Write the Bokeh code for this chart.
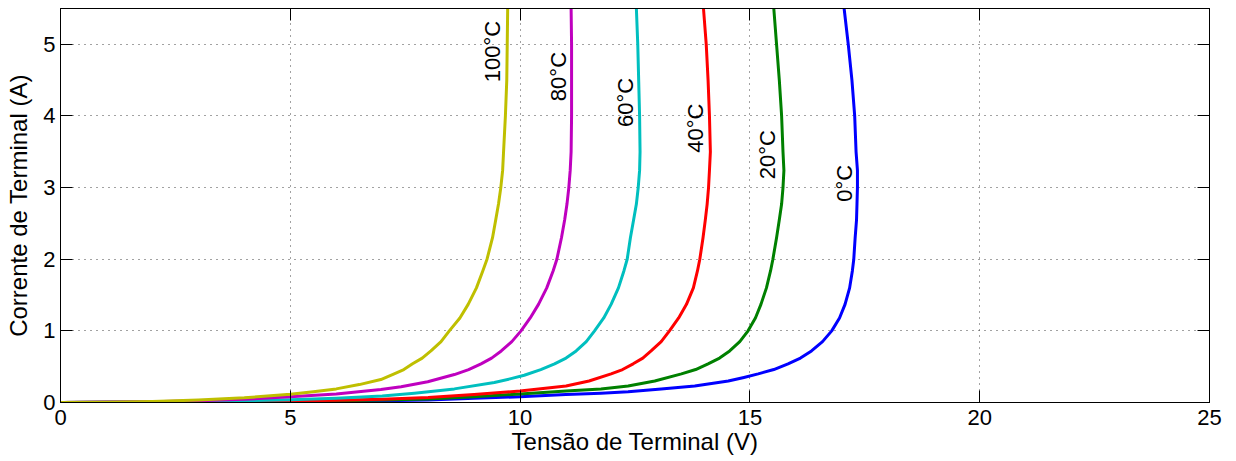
from bokeh.plotting import figure
from bokeh.models import Range1d, LinearAxis, FixedTicker, ColumnDataSource, CustomLabelingPolicy
from bokeh.core.properties import value
from bokeh.embed import file_html
from bokeh.resources import INLINE
import math

# ---- data (voltage V, current A) ----
temps = ["0°C", "20°C", "40°C", "60°C", "80°C", "100°C"]
colors = ["#0000ff", "#008000", "#ff0000", "#00bfbf", "#bf00bf", "#bfbf00"]

v_0 = [0, 3, 5, 6, 7, 8, 9, 10, 11, 11.76, 12.35, 13.07, 13.8, 14.53, 14.87, 15.18, 15.52, 15.83, 16.1, 16.34, 16.58, 16.78, 16.95, 17.07, 17.17, 17.23, 17.26, 17.29, 17.32, 17.33, 17.34, 17.34, 17.31, 17.28, 17.22, 17.14, 17.05]
i_0 = [0, 0.005, 0.01, 0.015, 0.025, 0.035, 0.06, 0.08, 0.11, 0.13, 0.15, 0.19, 0.23, 0.3, 0.35, 0.4, 0.46, 0.54, 0.62, 0.72, 0.85, 1.0, 1.18, 1.37, 1.6, 1.84, 2.0, 2.3, 2.55, 2.77, 3.0, 3.24, 3.5, 4.0, 4.5, 5.0, 5.5]

v_20 = [0, 4, 5, 6, 7, 8, 9, 10, 11, 11.76, 12.35, 12.93, 13.51, 13.82, 14.09, 14.34, 14.56, 14.78, 14.96, 15.12, 15.24, 15.36, 15.45, 15.5, 15.58, 15.64, 15.69, 15.72, 15.74, 15.72, 15.69, 15.64, 15.58, 15.52]
i_20 = [0, 0.01, 0.015, 0.025, 0.035, 0.05, 0.08, 0.12, 0.16, 0.19, 0.23, 0.3, 0.4, 0.46, 0.54, 0.62, 0.72, 0.85, 1.0, 1.18, 1.37, 1.6, 1.84, 2.0, 2.3, 2.55, 2.77, 3.0, 3.24, 3.5, 4.0, 4.5, 5.0, 5.5]

v_40 = [0, 4, 5, 6, 7, 8, 8.5, 9, 10, 11, 11.5, 11.98, 12.23, 12.46, 12.67, 12.85, 13.07, 13.25, 13.45, 13.62, 13.77, 13.86, 13.91, 13.98, 14.03, 14.07, 14.1, 14.12, 14.14, 14.12, 14.09, 14.05, 13.99]
i_40 = [0, 0.015, 0.02, 0.03, 0.045, 0.07, 0.09, 0.11, 0.16, 0.23, 0.3, 0.4, 0.46, 0.54, 0.62, 0.72, 0.85, 1.0, 1.18, 1.37, 1.6, 1.84, 2.0, 2.3, 2.55, 2.77, 3.0, 3.24, 3.5, 4.0, 4.5, 5.0, 5.5]

v_60 = [0, 3, 4, 5, 6, 7, 7.7, 8.57, 9.44, 9.78, 10.09, 10.45, 10.75, 11.0, 11.22, 11.44, 11.62, 11.82, 11.98, 12.14, 12.26, 12.33, 12.4, 12.47, 12.53, 12.57, 12.6, 12.61, 12.6, 12.58, 12.56, 12.53]
i_60 = [0, 0.015, 0.025, 0.04, 0.06, 0.09, 0.13, 0.19, 0.28, 0.33, 0.38, 0.46, 0.54, 0.62, 0.72, 0.85, 1.0, 1.18, 1.37, 1.6, 1.84, 2.0, 2.3, 2.55, 2.77, 3.0, 3.24, 3.5, 4.0, 4.5, 5.0, 5.5]

v_80 = [0, 2, 3, 4, 5, 6, 6.97, 7.41, 7.99, 8.57, 8.88, 9.15, 9.38, 9.59, 9.82, 10.02, 10.22, 10.4, 10.58, 10.72, 10.8, 10.9, 10.97, 11.02, 11.06, 11.09, 11.11, 11.12, 11.12, 11.12, 11.11]
i_80 = [0, 0.01, 0.025, 0.045, 0.08, 0.12, 0.18, 0.22, 0.29, 0.39, 0.46, 0.54, 0.62, 0.72, 0.85, 1.0, 1.18, 1.37, 1.6, 1.84, 2.0, 2.3, 2.55, 2.77, 3.0, 3.24, 3.5, 4.0, 4.5, 5.0, 5.5]

v_100 = [0, 1, 2, 3, 4, 5, 5.5, 6, 6.5, 6.97, 7.26, 7.47, 7.66, 7.87, 8.06, 8.28, 8.46, 8.69, 8.87, 9.05, 9.19, 9.28, 9.4, 9.47, 9.53, 9.58, 9.62, 9.64, 9.68, 9.71, 9.72, 9.73]
i_100 = [0, 0.005, 0.015, 0.035, 0.065, 0.115, 0.15, 0.19, 0.25, 0.32, 0.4, 0.46, 0.54, 0.62, 0.72, 0.85, 1.0, 1.18, 1.37, 1.6, 1.84, 2.0, 2.3, 2.55, 2.77, 3.0, 3.24, 3.5, 4.0, 4.5, 5.0, 5.5]

volts = [v_0, v_20, v_40, v_60, v_80, v_100]
amps = [i_0, i_20, i_40, i_60, i_80, i_100]

# label anchor positions (data coords)
label_v = [17.05, 15.38, 13.82, 12.29, 10.84, 9.40]
label_i = [3.06, 3.46, 3.83, 4.19, 4.55, 4.90]

x_ticks = [0, 5, 10, 15, 20, 25]
y_ticks = [0, 1, 2, 3, 4, 5]

FONT = "Liberation Sans"

p = figure(width=1236, height=461, output_backend="svg", toolbar_location=None,
           x_range=Range1d(0, 25), y_range=Range1d(0, 5.5),
           min_border_left=60, min_border_right=27, min_border_top=8, min_border_bottom=59,
           x_axis_label="Tensão de Terminal (V)", y_axis_label="Corrente de Terminal (A)")
p.background_fill_color = "white"
p.border_fill_color = "white"
p.outline_line_color = "#000000"
p.outline_line_width = 1

for ax, ticks in ((p.xaxis[0], x_ticks), (p.yaxis[0], y_ticks)):
    ax.ticker = FixedTicker(ticks=ticks)
    ax.major_tick_in = 12
    ax.major_tick_out = 0
    ax.minor_tick_line_color = None
    ax.axis_line_color = "#000000"
    ax.major_tick_line_color = "#000000"
    ax.major_label_text_font = FONT
    ax.major_label_text_font_size = "22px"
    ax.major_label_text_color = "#000000"
    ax.axis_label_text_font = FONT
    ax.axis_label_text_font_size = "24px"
    ax.axis_label_text_font_style = "normal"
    ax.axis_label_text_color = "#000000"

p.xaxis[0].major_label_standoff = 7
p.xaxis[0].axis_label_standoff = 0
p.yaxis[0].major_label_standoff = 5
p.yaxis[0].axis_label_standoff = 8

hide_labels = CustomLabelingPolicy(code="""
try {
  for (const i of Array.from(indices)) { indices.unset(i) }
} catch (e) {}
return indices
""")

for loc, ticks in (("right", y_ticks), ("above", x_ticks)):
    ax = LinearAxis(ticker=FixedTicker(ticks=ticks))
    ax.major_tick_in = 12
    ax.major_tick_out = 0
    ax.minor_tick_line_color = None
    ax.major_label_text_font_size = "0px"
    ax.major_label_standoff = 0
    ax.major_label_policy = hide_labels
    ax.axis_line_color = "#000000"
    ax.major_tick_line_color = "#000000"
    p.add_layout(ax, loc)

for g, ticks in ((p.xgrid[0], x_ticks), (p.ygrid[0], y_ticks)):
    g.ticker = FixedTicker(ticks=ticks)
    g.grid_line_color = "#444444"
    g.grid_line_dash = "1 5"
    g.grid_line_width = 1

for v, i, c in zip(volts, amps, colors):
    p.line(v, i, line_color=c, line_width=3, line_join="round")

src = ColumnDataSource(dict(x=label_v, y=label_i, t=temps))
p.text(x="x", y="y", text="t", source=src, angle=math.pi / 2,
       text_align="center", text_baseline="middle",
       text_font=value(FONT), text_font_size="22px", text_color="#000000")

open("out.html", "w").write(file_html(p, INLINE))
